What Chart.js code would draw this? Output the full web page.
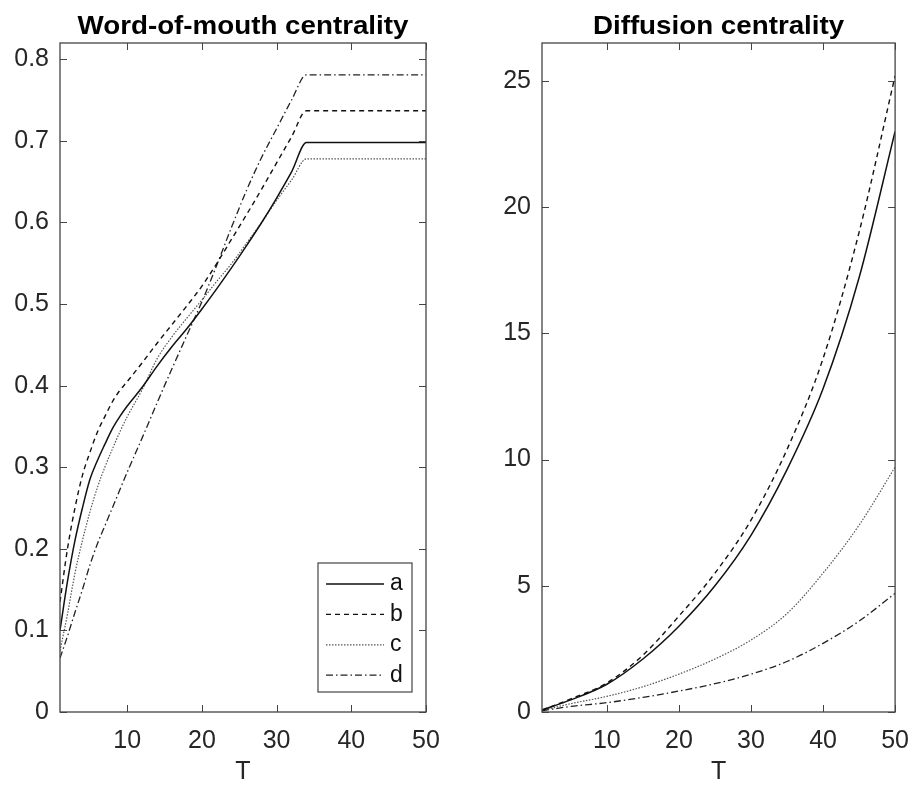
<!DOCTYPE html>
<html>
<head>
<meta charset="utf-8">
<script src="https://cdn.jsdelivr.net/npm/chart.js@4"></script>
<style>
  body { margin: 0; background: #fff; }
  .panel { position: absolute; top: 0; height: 787px; }
  #left { left: 0; width: 460px; }
  #right { left: 460px; width: 463px; }
</style>
</head>
<body>
<div class="panel" id="left"><canvas id="womChart"></canvas></div>
<div class="panel" id="right"><canvas id="difChart"></canvas></div>
<script>
const seriesNames = ["a", "b", "c", "d"];
const xTicks = [10, 20, 30, 40, 50];

// Word-of-mouth centrality
const womT = [1, 2, 3, 4, 5, 6, 7, 8, 9, 10, 12, 14, 16, 18, 20, 22, 24, 26, 28, 30, 32, 34, 40, 50];
const womA = [0.1, 0.16, 0.21, 0.25, 0.285, 0.308, 0.328, 0.347, 0.362, 0.375, 0.398, 0.424, 0.448, 0.47, 0.494, 0.519, 0.545, 0.572, 0.6, 0.63, 0.662, 0.698, 0.698, 0.698];
const womB = [0.135, 0.2, 0.25, 0.29, 0.318, 0.343, 0.362, 0.38, 0.394, 0.405, 0.428, 0.452, 0.475, 0.498, 0.522, 0.55, 0.58, 0.61, 0.641, 0.673, 0.705, 0.737, 0.737, 0.737];
const womC = [0.075, 0.12, 0.17, 0.21, 0.245, 0.275, 0.3, 0.322, 0.343, 0.362, 0.395, 0.433, 0.46, 0.483, 0.505, 0.528, 0.55, 0.575, 0.6, 0.627, 0.652, 0.678, 0.678, 0.678];
const womD = [0.066, 0.093, 0.122, 0.15, 0.18, 0.206, 0.228, 0.25, 0.272, 0.294, 0.336, 0.379, 0.421, 0.462, 0.503, 0.548, 0.595, 0.64, 0.68, 0.715, 0.75, 0.781, 0.781, 0.781];
const womYTicks = [0, 0.1, 0.2, 0.3, 0.4, 0.5, 0.6, 0.7, 0.8];

// Diffusion centrality
const difT = [1, 5, 10, 15, 20, 25, 30, 35, 40, 45, 50];
const difA = [0.08, 0.48, 1.1, 2.1, 3.4, 5.0, 7.0, 9.6, 12.8, 17.2, 23.0];
const difB = [0.08, 0.52, 1.15, 2.25, 3.8, 5.5, 7.6, 10.4, 14.0, 19.0, 25.2];
const difC = [0.06, 0.33, 0.62, 1.0, 1.5, 2.1, 2.85, 3.9, 5.5, 7.4, 9.7];
const difD = [0.05, 0.22, 0.37, 0.58, 0.83, 1.12, 1.5, 2.0, 2.72, 3.6, 4.7];
const difYTicks = [0, 5, 10, 15, 20, 25];

const styles = [
  { borderColor: "#111", borderWidth: 1.5, borderDash: [] },
  { borderColor: "#111", borderWidth: 1.4, borderDash: [5, 4] },
  { borderColor: "#555", borderWidth: 1.2, borderDash: [1.5, 1.5] },
  { borderColor: "#222", borderWidth: 1.3, borderDash: [7, 3, 1.5, 3] }
];
const axisColor = "#444";
const font = "'Liberation Sans', Arial, Helvetica, sans-serif";

function makeSets(xs, lists) {
  return lists.map((ys, i) => ({
    label: seriesNames[i],
    data: ys.map((y, j) => ({ x: xs[j], y })),
    ...styles[i],
    pointRadius: 0,
    fill: false,
    cubicInterpolationMode: "monotone"
  }));
}

// frame + inward ticks on all four sides, title on top
const framePlugin = {
  id: "frame",
  afterDraw(chart, args, opts) {
    const { ctx, chartArea: a, scales } = chart;
    ctx.save();
    ctx.strokeStyle = axisColor;
    ctx.lineWidth = 1;
    scales.x.ticks.forEach(t => {
      const px = Math.round(scales.x.getPixelForValue(t.value)) + 0.5;
      ctx.beginPath();
      ctx.moveTo(px, a.bottom); ctx.lineTo(px, a.bottom - 7);
      ctx.moveTo(px, a.top); ctx.lineTo(px, a.top + 7);
      ctx.stroke();
    });
    scales.y.ticks.forEach(t => {
      const py = Math.round(scales.y.getPixelForValue(t.value)) + 0.5;
      ctx.beginPath();
      ctx.moveTo(a.left, py); ctx.lineTo(a.left + 7, py);
      ctx.moveTo(a.right, py); ctx.lineTo(a.right - 7, py);
      ctx.stroke();
    });
    ctx.lineWidth = 1.3;
    ctx.strokeRect(a.left, a.top, a.right - a.left, a.bottom - a.top);

    // title
    ctx.fillStyle = "#000";
    ctx.font = "bold 25px " + font;
    ctx.textAlign = "center";
    ctx.textBaseline = "alphabetic";
    ctx.translate((a.left + a.right) / 2, 34);
    ctx.scale(1.11, 1);
    ctx.fillText(opts.text, 0, 0);
    ctx.restore();
  }
};

const legendPlugin = {
  id: "boxLegend",
  afterDraw(chart, args, opts) {
    if (!opts.show) return;
    const { ctx } = chart;
    const bx = 318, by = 563, bw = 94, bh = 129;
    ctx.save();
    ctx.fillStyle = "#fff";
    ctx.fillRect(bx, by, bw, bh);
    ctx.strokeStyle = axisColor;
    ctx.lineWidth = 1.2;
    ctx.strokeRect(bx, by, bw, bh);
    chart.data.datasets.forEach((ds, i) => {
      const y = 584 + i * 30.4;
      ctx.strokeStyle = ds.borderColor;
      ctx.lineWidth = ds.borderWidth;
      ctx.setLineDash(ds.borderDash);
      ctx.beginPath();
      ctx.moveTo(326, y); ctx.lineTo(384, y);
      ctx.stroke();
      ctx.setLineDash([]);
      ctx.fillStyle = "#111";
      ctx.font = "23px " + font;
      ctx.textAlign = "left";
      ctx.textBaseline = "middle";
      ctx.fillText(ds.label, 390, y);
    });
    ctx.restore();
  }
};

function makeChart(id, xs, lists, yTicks, yMax, leftW, rightPad, title, legend) {
  return new Chart(document.getElementById(id), {
    type: "line",
    data: { datasets: makeSets(xs, lists) },
    plugins: [framePlugin, legendPlugin],
    options: {
      responsive: true,
      maintainAspectRatio: false,
      animation: false,
      layout: { padding: { top: 43, right: rightPad, bottom: 0, left: 0 } },
      plugins: {
        legend: { display: false },
        tooltip: { enabled: false },
        frame: { text: title },
        boxLegend: { show: legend }
      },
      scales: {
        x: {
          type: "linear",
          min: 1,
          max: 50,
          afterBuildTicks: s => { s.ticks = xTicks.map(v => ({ value: v })); },
          afterFit: s => { s.height = 75; },
          grid: { display: false, drawTicks: false },
          border: { display: false },
          ticks: { padding: 14, color: "#262626", font: { size: 25, family: font } },
          title: { display: true, text: "T", color: "#262626", padding: 0, font: { size: 25, family: font } }
        },
        y: {
          min: 0,
          max: yMax,
          afterBuildTicks: s => { s.ticks = yTicks.map(v => ({ value: v })); },
          afterFit: s => { s.width = leftW; },
          grid: { display: false, drawTicks: false },
          border: { display: false },
          ticks: { padding: 11, color: "#262626", font: { size: 25, family: font } }
        }
      }
    }
  });
}

makeChart("womChart", womT, [womA, womB, womC, womD], womYTicks, 0.82, 60, 34, "Word-of-mouth centrality", true);
makeChart("difChart", difT, [difA, difB, difC, difD], difYTicks, 26.5, 82, 16, "Diffusion centrality", false);
</script>
</body>
</html>
